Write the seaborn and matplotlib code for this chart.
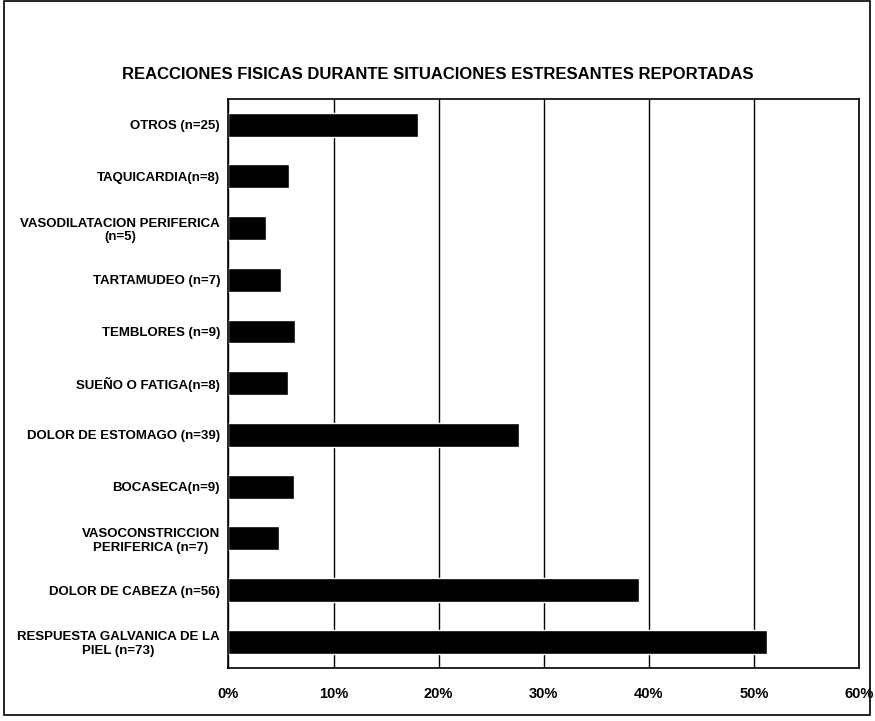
import matplotlib
matplotlib.use("Agg")
import matplotlib.pyplot as plt
import seaborn as sns
import pandas as pd
from matplotlib.ticker import FuncFormatter, FixedLocator

# categorias de arriba hacia abajo
categorias = [
    "OTROS (n=25)",
    "TAQUICARDIA(n=8)",
    "VASODILATACION PERIFERICA\n(n=5)",
    "TARTAMUDEO (n=7)",
    "TEMBLORES (n=9)",
    "SUEÑO O FATIGA(n=8)",
    "DOLOR DE ESTOMAGO (n=39)",
    "BOCASECA(n=9)",
    "VASOCONSTRICCION\nPERIFERICA (n=7)",
    "DOLOR DE CABEZA (n=56)",
    "RESPUESTA GALVANICA DE LA\nPIEL (n=73)",
]
porcentajes = [18.0, 5.8, 3.6, 5.0, 6.3, 5.7, 27.6, 6.2, 4.8, 39.1, 51.2]
x_ticks = [0, 10, 20, 30, 40, 50, 60]

df = pd.DataFrame({"reaccion": categorias, "pct": porcentajes})

sns.set_style("white")
plt.rcParams["font.family"] = ["Liberation Sans Narrow", "Liberation Sans", "DejaVu Sans"]
plt.rcParams["text.color"] = "black"
plt.rcParams["xtick.color"] = "black"
plt.rcParams["ytick.color"] = "black"

fig = plt.figure(figsize=(8.75, 7.21), dpi=100)
ax = fig.add_axes([0.261, 0.074, 0.721, 0.789])

sns.barplot(data=df, y="reaccion", x="pct", orient="h", color="black",
            width=0.46, ax=ax, saturation=1)

ax.set_xlim(0, 60)
ax.xaxis.set_major_locator(FixedLocator(x_ticks))
ax.xaxis.set_major_formatter(FuncFormatter(lambda v, p: f"{v:.0f}%"))
ax.grid(axis="x", color="black", linewidth=1.0)
ax.set_axisbelow(True)
ax.set_xlabel("")
ax.set_ylabel("")

for lab in ax.get_yticklabels():
    lab.set_fontweight("bold")
    lab.set_fontsize(9.5)
    lab.set_multialignment("center")
for lab in ax.get_xticklabels():
    lab.set_fontweight("bold")
    lab.set_fontsize(10.5)

ax.tick_params(axis="y", length=0, pad=6)
ax.tick_params(axis="x", length=4, direction="out", pad=10)
# marcas entre categorias
ax.set_yticks([i + 0.5 for i in range(-1, len(categorias))], minor=True)
ax.tick_params(axis="y", which="minor", length=4, direction="out", color="black")

for s in ax.spines.values():
    s.set_color("black")
    s.set_linewidth(1.2)

fig.text(0.5, 0.896, "REACCIONES FISICAS DURANTE SITUACIONES ESTRESANTES REPORTADAS",
         ha="center", va="center", fontsize=12, fontweight="bold")

# marco de la figura
fig.patches.append(plt.Rectangle((0.004, 0.008), 0.99, 0.99, transform=fig.transFigure,
                                 fill=False, edgecolor="black", linewidth=1.2))

fig.savefig("out.png", dpi=100)
